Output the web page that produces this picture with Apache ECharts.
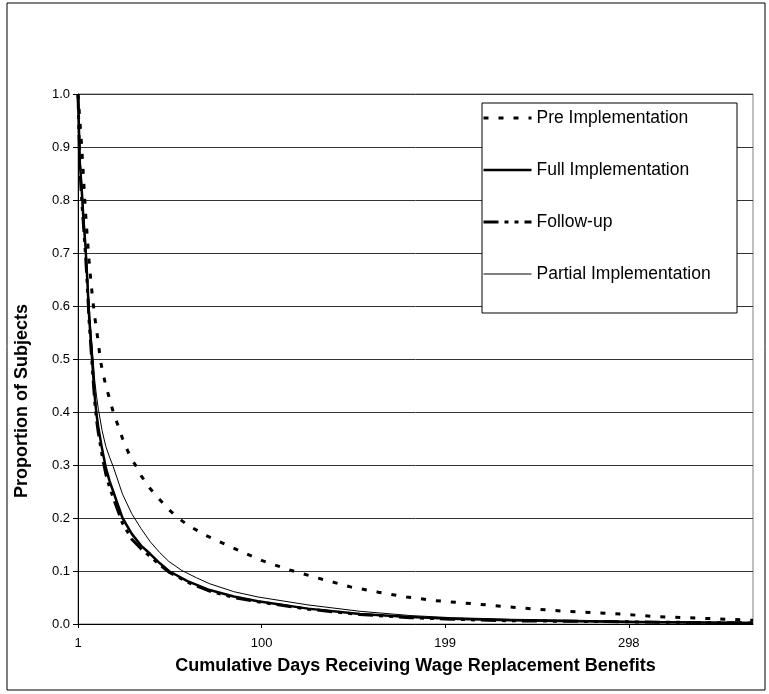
<!DOCTYPE html>
<html><head><meta charset="utf-8">
<script src="https://cdn.jsdelivr.net/npm/echarts/dist/echarts.min.js"></script>
<style>html,body{margin:0;padding:0;background:#fff}#c{width:769px;height:694px}</style>
</head><body><div id="c"></div>
<script>
// ---- data ----
const xTickLabels = ['1', '100', '199', '298'];
const lastDay = 365;

const preDays = [1,2,3,4,5,6,7,8,9,10,11,12,13,14,16,18,20,22,25,28,30,32,35,40,45,50,54,60,70,80,90,100,115,130,148,163,178,194,218,241,264,288,313,336,365];
const preVals = [1.0,0.95,0.9,0.84,0.78,0.73,0.685,0.645,0.61,0.58,0.555,0.53,0.50,0.48,0.45,0.425,0.40,0.38,0.35,0.325,0.31,0.30,0.28,0.255,0.235,0.216,0.203,0.187,0.167,0.151,0.135,0.12,0.102,0.087,0.07,0.06,0.051,0.044,0.037,0.03,0.024,0.02,0.014,0.011,0.007];

const fullDays = [1,2,3,4,5,6,7,8,9,10,11,12,14,16,18,20,25,30,35,40,45,50,60,72,85,98,125,153,180,202,234,270,300,330,365];
const fullVals = [1.0,0.87,0.82,0.76,0.715,0.65,0.58,0.53,0.48,0.43,0.395,0.37,0.33,0.295,0.27,0.25,0.20,0.17,0.148,0.132,0.115,0.10,0.081,0.064,0.052,0.043,0.029,0.019,0.013,0.01,0.007,0.005,0.004,0.003,0.002];

const followDays = [1,2,3,4,5,6,7,8,9,10,11,12,14,16,18,20,25,30,35,40,45,50,60,72,85,98,125,153,180,202,234,270,300,330,365];
const followVals = [1.0,0.86,0.8,0.75,0.70,0.64,0.57,0.52,0.47,0.42,0.385,0.36,0.318,0.283,0.258,0.238,0.19,0.16,0.142,0.127,0.112,0.098,0.079,0.062,0.05,0.042,0.028,0.018,0.012,0.009,0.006,0.005,0.004,0.003,0.002];

const partDays = [1,2,3,4,5,6,7,8,9,10,11,12,14,16,18,20,25,30,35,40,45,50,57,65,72,85,98,125,153,180,202,234,270,300,330,365];
const partVals = [1.0,0.88,0.83,0.77,0.72,0.66,0.6,0.55,0.505,0.46,0.43,0.405,0.365,0.335,0.315,0.297,0.245,0.208,0.18,0.155,0.135,0.118,0.101,0.087,0.076,0.061,0.051,0.036,0.024,0.016,0.012,0.009,0.007,0.005,0.004,0.003];

// ---- build ----
const categories = [];
for (let d = 1; d <= lastDay; d++) categories.push(String(d));
const pairs = (ds, vs) => ds.map((d, i) => [String(d), vs[i]]);
const FONT = 'Liberation Sans, Arial, sans-serif';

const styles = {
  'Pre Implementation': { color: '#000', width: 3, type: [5, 10] },
  'Full Implementation': { color: '#000', width: 2.5, type: 'solid' },
  'Follow-up': { color: '#000', width: 3, type: [15, 6, 4, 6, 4, 6] },
  'Partial Implementation': { color: '#000', width: 1, type: 'solid' }
};
const names = Object.keys(styles);

const chart = echarts.init(document.getElementById('c'));
chart.setOption({
  animation: false,
  backgroundColor: '#fff',
  grid: { left: 78, right: 16, top: 94, bottom: 70, show: true, borderColor: '#808080', borderWidth: 1 },
  xAxis: {
    type: 'category', data: categories, boundaryGap: false,
    axisLine: { lineStyle: { color: '#000', width: 1 } },
    axisTick: { show: true, length: 4, lineStyle: { color: '#000' },
      interval: (i, v) => xTickLabels.includes(v) },
    axisLabel: { interval: (i, v) => xTickLabels.includes(v), color: '#000', fontSize: 13, fontFamily: FONT, margin: 13 },
    splitLine: { show: false },
    name: 'Cumulative Days Receiving Wage Replacement Benefits',
    nameLocation: 'middle', nameGap: 33,
    nameTextStyle: { fontWeight: 'bold', fontSize: 18, fontFamily: FONT, color: '#000' }
  },
  yAxis: {
    type: 'value', min: 0, max: 1, interval: 0.1,
    axisLine: { show: true, lineStyle: { color: '#000', width: 1 } },
    axisTick: { show: true, length: 5, lineStyle: { color: '#000' } },
    axisLabel: { formatter: v => v.toFixed(1), color: '#000', fontSize: 13, fontFamily: FONT, margin: 8 },
    splitLine: { show: true, lineStyle: { color: '#333', width: 1 } }
  },
  legend: {
    orient: 'vertical', left: 482, top: 109, padding: 0,
    itemWidth: 48, itemHeight: 17, itemGap: 34, z: 6,
    itemStyle: { opacity: 0 },
    textStyle: { fontSize: 17.5, fontFamily: FONT, color: '#000' },
    data: names.map(n => ({ name: n, lineStyle: styles[n] }))
  },
  graphic: [
    { type: 'rect', z: 5, shape: { x: 482, y: 103, width: 255, height: 210 },
      style: { fill: '#fff', stroke: '#000', lineWidth: 1 } },
    { type: 'rect', z: 5, shape: { x: 7, y: 3, width: 758, height: 687 },
      style: { fill: 'none', stroke: '#000', lineWidth: 1 } },
    { type: 'text', z: 5, x: 22, y: 498, rotation: Math.PI / 2,
      style: { text: 'Proportion of Subjects', fontSize: 18, fontWeight: 'bold', fontFamily: FONT,
        fill: '#000', textAlign: 'left', textVerticalAlign: 'middle' } }
  ],
  series: [
    { name: names[0], type: 'line', symbol: 'none', data: pairs(preDays, preVals),
      lineStyle: styles[names[0]], itemStyle: { color: '#000' } },
    { name: names[1], type: 'line', symbol: 'none', data: pairs(fullDays, fullVals),
      lineStyle: styles[names[1]], itemStyle: { color: '#000' } },
    { name: names[2], type: 'line', symbol: 'none', data: pairs(followDays, followVals),
      lineStyle: styles[names[2]], itemStyle: { color: '#000' } },
    { name: names[3], type: 'line', symbol: 'none', data: pairs(partDays, partVals),
      lineStyle: styles[names[3]], itemStyle: { color: '#000' } }
  ]
});
</script></body></html>
